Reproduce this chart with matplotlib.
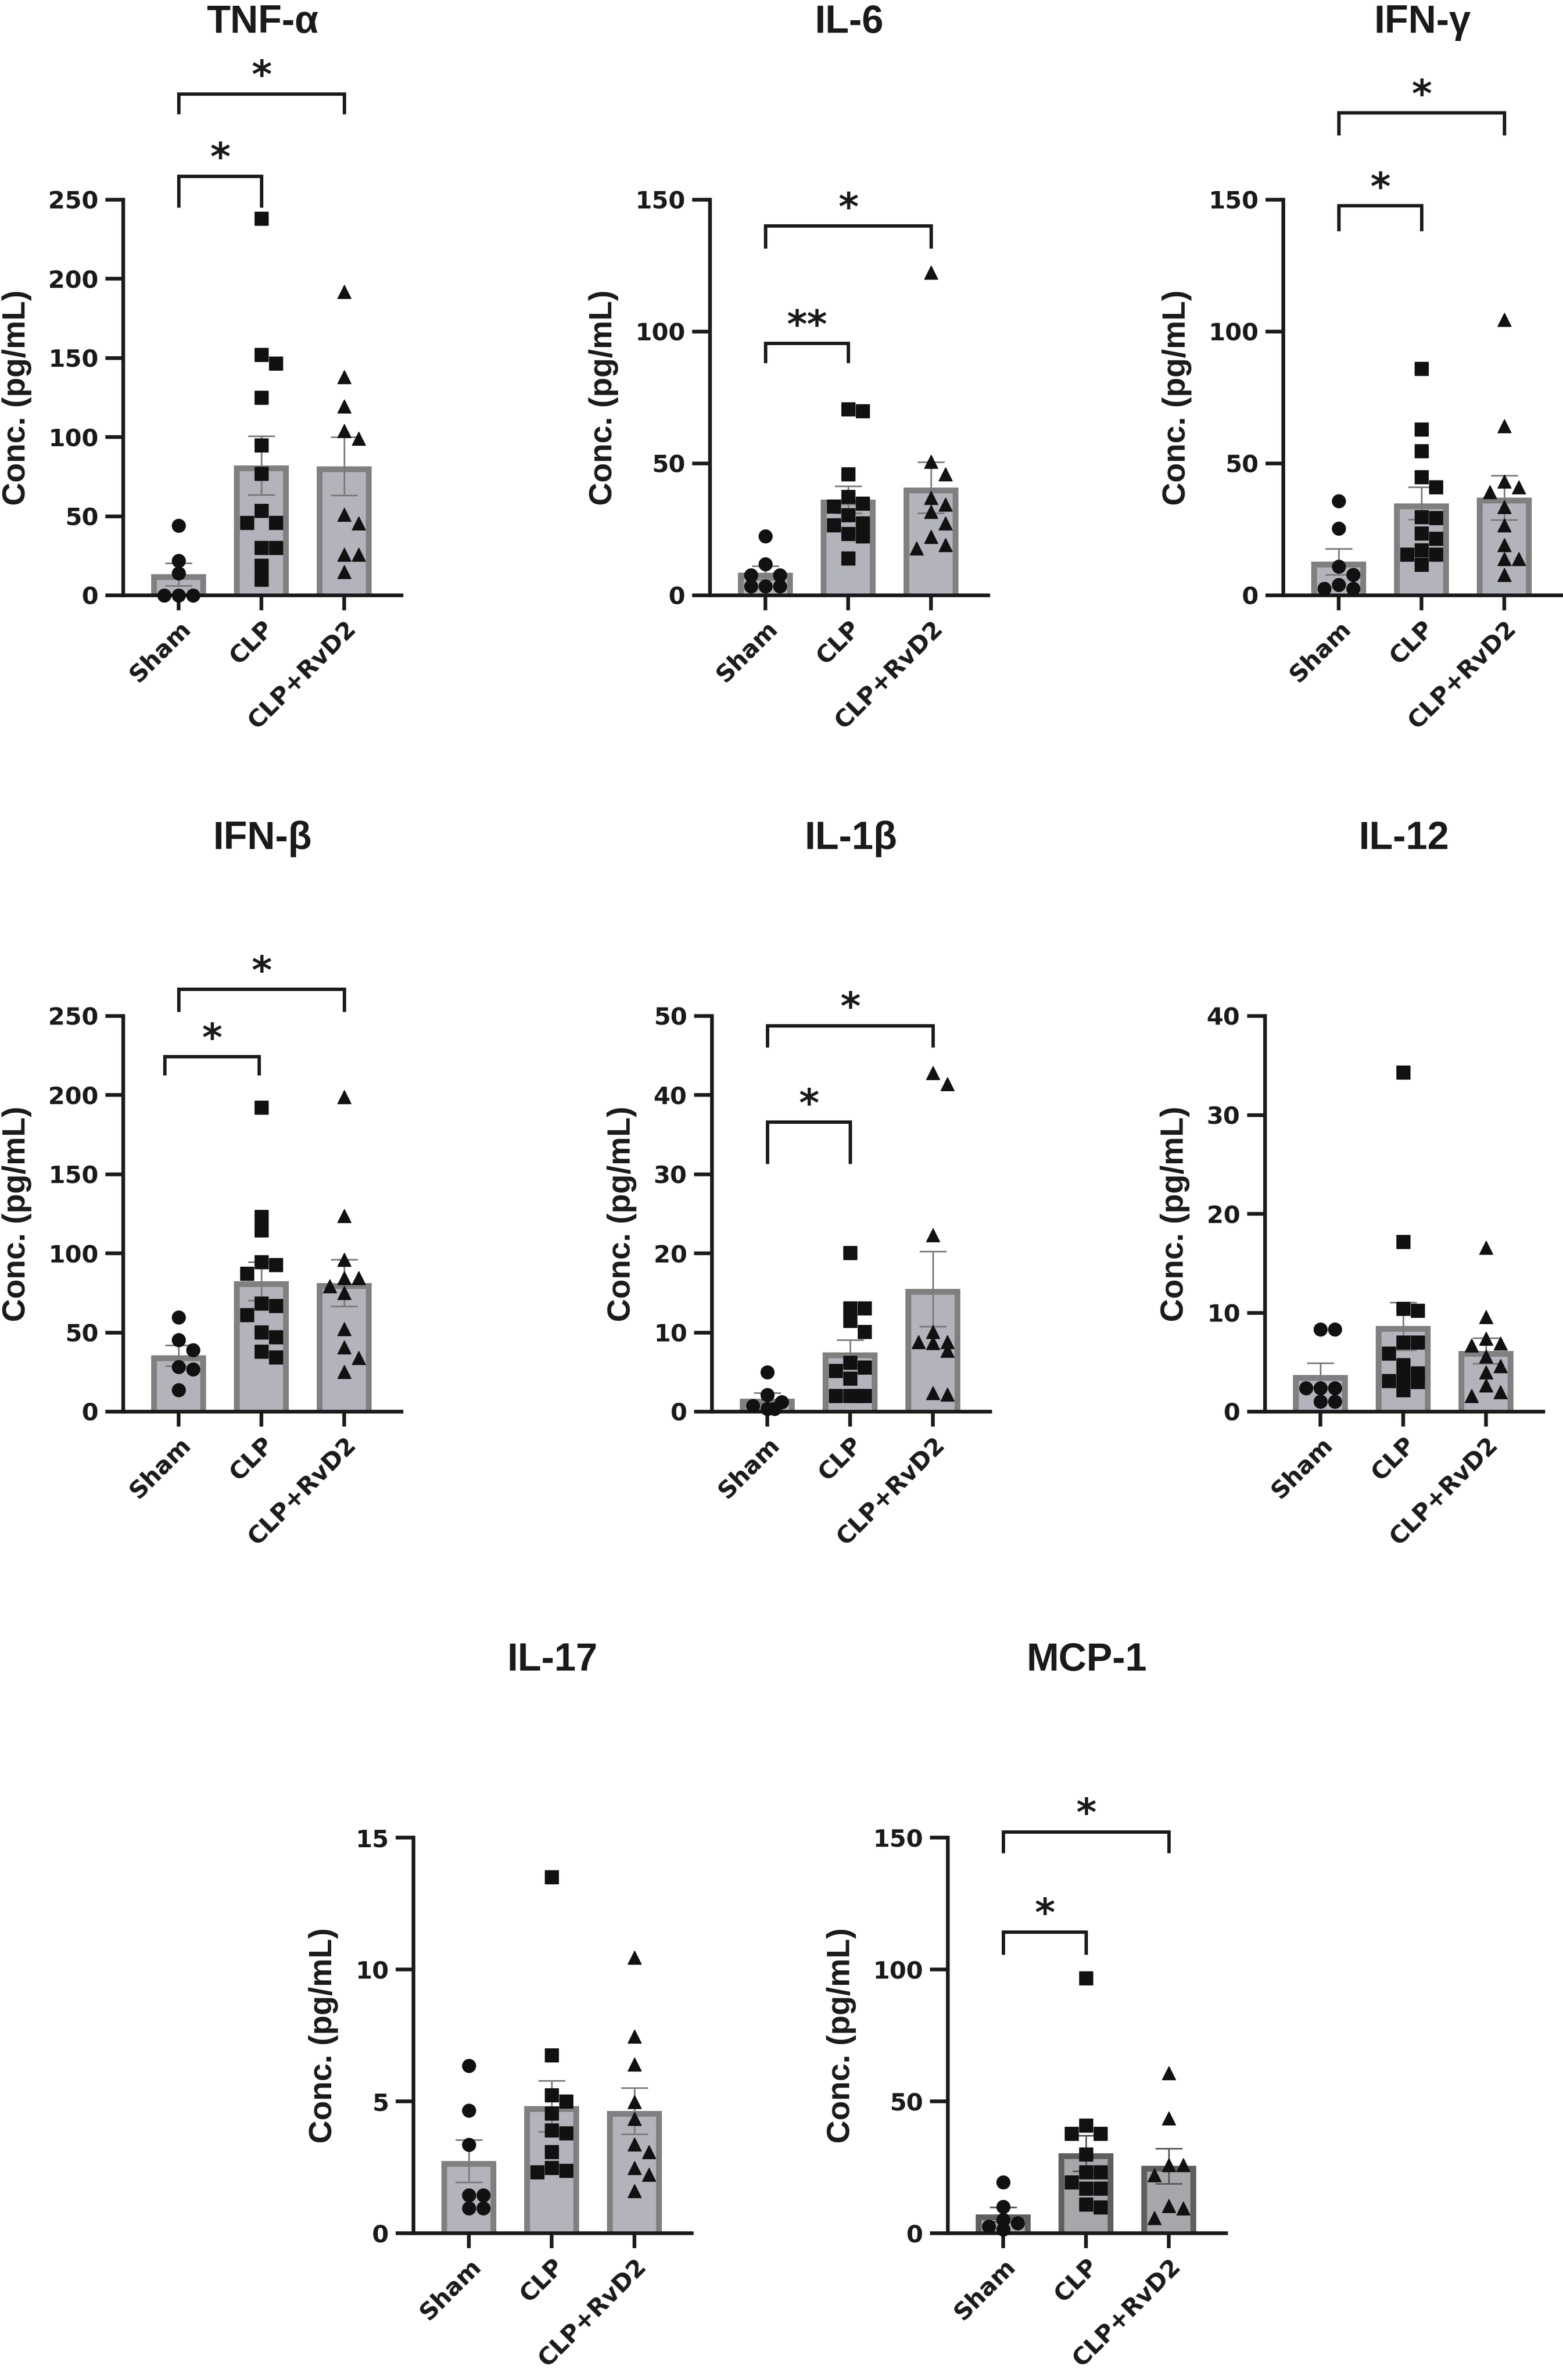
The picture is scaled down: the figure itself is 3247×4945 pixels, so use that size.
import numpy as np
import matplotlib.pyplot as plt

plt.rcParams['font.family'] = ['DejaVu Sans']
plt.rcParams['font.weight'] = 'bold'

W_PX, H_PX, DPI = 3248, 4945, 100

groups = ['Sham', 'CLP', 'CLP+RvD2']

# values (pg/mL), one list per group
tnf_sham = [0, 0, 0, 14, 22, 44]
tnf_clp = [238, 152, 146.5, 125, 95, 77, 53.5, 46, 46, 30, 30, 19, 10]
tnf_rvd2 = [192, 138, 119.5, 104, 99, 51, 45.5, 26, 26, 15]

il6_sham = [22.4, 11.9, 7.7, 7.7, 3.5, 3.5, 3.5]
il6_clp = [70.6, 69.8, 46, 37.4, 34.8, 33.7, 30.4, 27.4, 26.6, 23.3, 22.4, 14]
il6_rvd2 = [122.4, 50.7, 46, 37.1, 34.4, 31.8, 27.4, 22.2, 19.2, 17.8]

ifng_sham = [35.8, 25.3, 11, 7.9, 4, 2.6, 2.6]
ifng_clp = [86, 63, 54.7, 44.9, 41.1, 29.7, 29.4, 23.6, 21.5, 17.1, 15.6, 15.6, 11.7]
ifng_rvd2 = [104.5, 64.2, 43.2, 41.1, 39.3, 33.6, 26.6, 19.1, 13.8, 13.8, 7.9]

ifnb_sham = [59.7, 45.2, 39, 28.3, 26.8, 13.7]
ifnb_clp = [192.3, 123.3, 114.8, 94.7, 92.7, 87.4, 68.5, 67, 61.2, 50.1, 47.2, 37.9, 34.4]
ifnb_rvd2 = [199, 123.8, 96.2, 84.5, 84.5, 79.3, 75.2, 52.4, 40.8, 34.1, 25.1]

il1b_sham = [5.0, 2.1, 1.2, 0.7, 0.35, 0.35]
il1b_clp = [20.1, 13.1, 13.1, 11.5, 10.1, 6.2, 5.6, 5.2, 4.2, 2.0, 2.0, 2.0, 2.0]
il1b_rvd2 = [42.8, 41.4, 22.3, 10.1, 8.8, 8.8, 8.7, 7.7, 2.4, 2.2]

il12_sham = [8.3, 8.3, 2.4, 2.4, 2.4, 1.0, 1.0]
il12_clp = [34.3, 17.2, 10.4, 10.2, 7.0, 7.0, 5.9, 4.7, 3.9, 3.4, 3.1, 3.0, 2.2]
il12_rvd2 = [16.6, 9.6, 7.4, 6.9, 6.7, 5.6, 4.6, 4.0, 2.7, 2.0, 1.6]

il17_sham = [6.35, 4.65, 3.35, 1.45, 1.45, 0.95, 0.95]
il17_clp = [13.5, 6.76, 5.23, 5.0, 4.54, 3.9, 3.8, 3.09, 2.48, 2.38, 2.31]
il17_rvd2 = [10.45, 7.47, 6.4, 4.99, 4.34, 3.37, 3.09, 2.48, 2.22, 1.6]

mcp1_sham = [19.4, 10.1, 5.2, 3.9, 2.6, 1.5]
mcp1_clp = [96.8, 40.8, 37.8, 37.8, 30, 23.1, 23.1, 19.4, 16.9, 16.9, 11, 9.9]
mcp1_rvd2 = [60.7, 43.6, 25.9, 25.9, 22, 10.4, 9.5, 5.8]

# layout (pixels) and styling
AX_W, AX_H = 578, 822
X_LO, X_HI = -0.67, 2.69
PX_X = AX_W / (X_HI - X_LO)
BAR_W = 0.663
EDGE_PX = 12
MARKERS = ['o', 's', '^']
INK = '#1a1a1a'
SANS = ['Liberation Sans', 'DejaVu Sans']
GREY = dict(fill='#b2b3bb', edge='#808080', err='#7a7a7a')
DARK = dict(fill='#a7a7ab', edge='#5f5f5f', err='#555555')

panels = [
    dict(title='TNF-α', data=(tnf_sham, tnf_clp, tnf_rvd2), ymax=250, step=50,
         left=256, top=415, col=GREY,
         brackets=[(0, 2, 317, 304, '*'), (0, 1, 265, 245, '*')]),
    dict(title='IL-6', data=(il6_sham, il6_clp, il6_rvd2), ymax=150, step=50,
         left=1475, top=415, col=GREY,
         brackets=[(0, 2, 140.1, 131.5, '*'), (0, 1, 95.6, 88.2, '**')]),
    dict(title='IFN-γ', data=(ifng_sham, ifng_clp, ifng_rvd2), ymax=150, step=50,
         left=2666, top=415, col=GREY,
         brackets=[(0, 2, 183, 174.5, '*'), (0, 1, 147.8, 138.1, '*')]),
    dict(title='IFN-β', data=(ifnb_sham, ifnb_clp, ifnb_rvd2), ymax=250, step=50,
         left=256, top=2111, col=GREY,
         brackets=[(0, 2, 267, 252.7, '*'), (-0.17, 0.97, 224.4, 212.7, '*')]),
    dict(title='IL-1β', data=(il1b_sham, il1b_clp, il1b_rvd2), ymax=50, step=10,
         left=1479, top=2111, col=GREY,
         brackets=[(0, 2, 48.8, 46.05, '*'), (0, 1, 36.6, 31.3, '*')]),
    dict(title='IL-12', data=(il12_sham, il12_clp, il12_rvd2), ymax=40, step=10,
         left=2628, top=2111, col=GREY, brackets=[]),
    dict(title='IL-17', data=(il17_sham, il17_clp, il17_rvd2), ymax=15, step=5,
         left=859, top=3818, col=GREY, brackets=[]),
    dict(title='MCP-1', data=(mcp1_sham, mcp1_clp, mcp1_rvd2), ymax=150, step=50,
         left=1969, top=3818, col=DARK,
         brackets=[(0, 2, 152.2, 144.1, '*'), (0, 1, 114.3, 105.7, '*')]),
]


def swarm(vals, px_y, step=15, size=26):
    # column scatter: nudge overlapping points sideways, stay inside the bar
    order = np.argsort(-vals, kind='stable')
    placed = []
    offs = np.zeros(len(vals))
    cands = [c * step for c in (0, 1, -1, 2, -2, 3, -3)]
    for k in order:
        y = vals[k] * px_y
        best, best_gap = 0, -1.0
        for x in cands:
            gap = min((max(abs(x - px), abs(y - py)) for px, py in placed), default=np.inf)
            if gap >= size:
                best = x
                break
            if gap > best_gap:
                best, best_gap = x, gap
        placed.append((best, y))
        offs[k] = best / PX_X
    return offs


def draw_panel(fig, cfg):
    l, t = cfg['left'], cfg['top']
    ax = fig.add_axes([l / W_PX, 1 - (t + AX_H) / H_PX, AX_W / W_PX, AX_H / H_PX])
    ymax = cfg['ymax']
    ax.set_xlim(X_LO, X_HI)
    ax.set_ylim(0, ymax)
    px_y = AX_H / ymax
    col = cfg['col']

    for i, (vals, mk) in enumerate(zip(cfg['data'], MARKERS)):
        vals = np.asarray(vals, dtype=float)
        mean = vals.mean()
        sem = vals.std(ddof=1) / np.sqrt(len(vals))
        ax.bar(i, mean, width=BAR_W, color=col['edge'], zorder=1)
        ax.bar(i, max(mean - EDGE_PX / px_y, 0), width=BAR_W - 2 * EDGE_PX / PX_X,
               color=col['fill'], zorder=1.1)
        ax.errorbar(i, mean, yerr=sem, fmt='none', ecolor=col['err'],
                    elinewidth=2.4, capsize=20, capthick=2.4, zorder=2)
        ax.plot(i + swarm(vals, px_y), vals, ls='none', marker=mk, ms=20,
                color='#111111', mec='#111111', clip_on=False, zorder=3)

    for x0, x1, y_top, y_leg, label in cfg['brackets']:
        ax.plot([x0, x0, x1, x1], [y_leg, y_top, y_top, y_leg], color=INK, lw=5,
                clip_on=False, solid_joinstyle='miter', solid_capstyle='butt')
        ax.annotate(label, ((x0 + x1) / 2, y_top), xytext=(0, 9),
                    textcoords='offset points', ha='center', va='baseline',
                    fontsize=58, fontweight='bold', color=INK, annotation_clip=False)

    ax.annotate(cfg['title'], (0.5, 1), xycoords='axes fraction', xytext=(0, 250),
                textcoords='offset points', ha='center', va='baseline',
                fontsize=58, fontweight='bold', family=SANS, color=INK)

    ax.set_yticks(np.arange(0, ymax + 1e-9, cfg['step']))
    ax.set_xticks(range(len(groups)))
    ax.set_xticklabels(groups)
    ax.set_ylabel('Conc. (pg/mL)', fontsize=48, fontweight='bold', family=SANS,
                  labelpad=25, color=INK)

    for side in ('top', 'right'):
        ax.spines[side].set_visible(False)
    for side in ('left', 'bottom'):
        ax.spines[side].set_linewidth(5.5)
        ax.spines[side].set_color(INK)
    ax.tick_params(axis='y', length=27, width=5.5, pad=10, labelsize=36,
                   color=INK, labelcolor=INK)
    ax.tick_params(axis='x', length=22, width=5.5, pad=10, labelsize=36,
                   color=INK, labelcolor=INK)
    for lbl in ax.get_xticklabels():
        lbl.set_rotation(45)
        lbl.set_ha('right')
        lbl.set_va('top')
        lbl.set_rotation_mode('anchor')
        lbl.set_fontweight('bold')
    return ax


fig = plt.figure(figsize=(W_PX / DPI, H_PX / DPI), dpi=DPI, facecolor='white')
for cfg in panels:
    draw_panel(fig, cfg)

fig.savefig('out.png', dpi=DPI, facecolor='white')
